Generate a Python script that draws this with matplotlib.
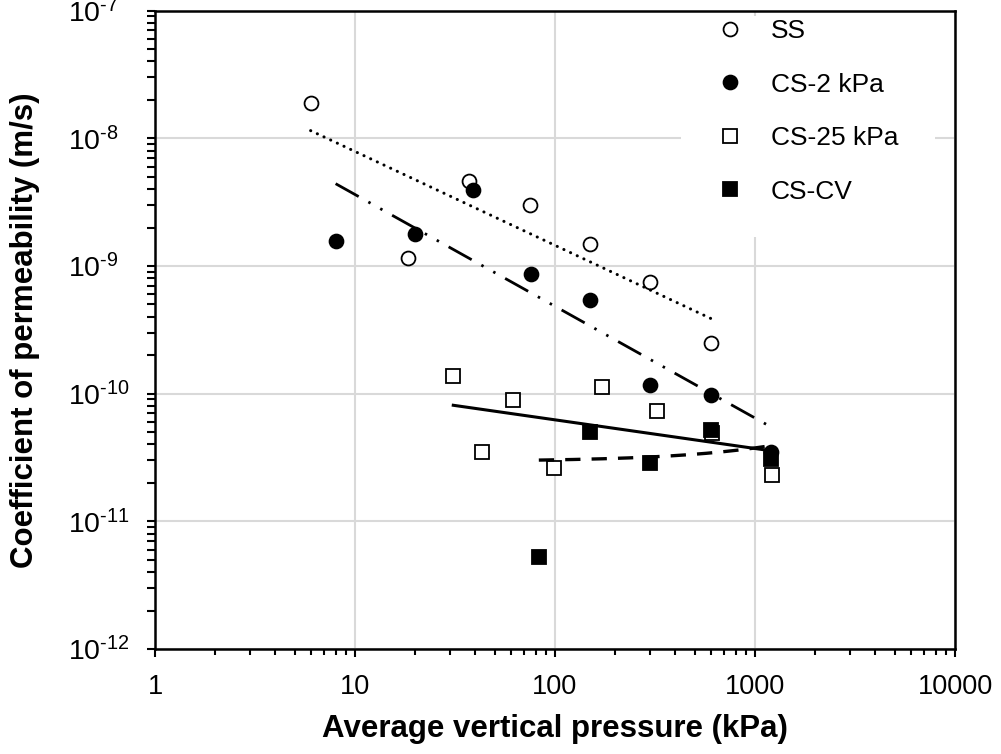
import numpy as np
import matplotlib
matplotlib.use("Agg")
import matplotlib.pyplot as plt
from matplotlib.ticker import LogLocator, FixedLocator, FuncFormatter, NullFormatter
from matplotlib.lines import Line2D
from matplotlib.patches import Rectangle

plt.rcParams['font.family'] = ['Liberation Sans', 'DejaVu Sans']
plt.rcParams['mathtext.fontset'] = 'custom'
plt.rcParams['mathtext.rm'] = 'Liberation Sans'
plt.rcParams['mathtext.default'] = 'regular'
plt.rcParams['lines.scale_dashes'] = False

# ---- data ----
ss_p = [6, 18.4, 37, 75, 150, 300, 600]
ss_k = [1.9e-8, 1.16e-9, 4.6e-9, 3.0e-9, 1.48e-9, 7.5e-10, 2.5e-10]

cs2_p = [8, 20, 39, 76, 150, 300, 600, 1200]
cs2_k = [1.57e-9, 1.77e-9, 3.94e-9, 8.7e-10, 5.4e-10, 1.16e-10, 9.8e-11, 3.5e-11]

cs25_p = [31, 43, 62, 99, 172, 322, 610, 1210]
cs25_k = [1.38e-10, 3.5e-11, 8.9e-11, 2.6e-11, 1.13e-10, 7.3e-11, 4.9e-11, 2.3e-11]

cv_p = [83, 150, 300, 600, 1200]
cv_k = [5.3e-12, 5.0e-11, 2.85e-11, 5.2e-11, 3.05e-11]

labels = ['SS', 'CS-2 kPa', 'CS-25 kPa', 'CS-CV']
x_ticks = [1, 10, 100, 1000, 10000]
y_exps = [-12, -11, -10, -9, -8, -7]

W, H = 1001, 754
fig = plt.figure(figsize=(W / 100, H / 100), dpi=100)
ax_l, ax_r, ax_t, ax_b = 155, 955, 10.6, 649
ax = fig.add_axes([ax_l / W, 1 - ax_b / H, (ax_r - ax_l) / W, (ax_b - ax_t) / H])
ax.set_xscale('log')
ax.set_yscale('log')
ax.set_xlim(1, 10000)
ax.set_ylim(1e-12, 1e-7)

ax.grid(True, which='major', color='#d9d9d9', linewidth=1.5, zorder=0)
ax.set_axisbelow(True)

def ax_frac_x(px):
    return (px - ax_l) / (ax_r - ax_l)
def ax_frac_y(py):
    return 1 - (py - ax_t) / (ax_b - ax_t)

# white legend area (covers the grid)
ax.add_patch(Rectangle((ax_frac_x(681), ax_frac_y(237)),
                       ax_frac_x(935) - ax_frac_x(681), ax_frac_y(16) - ax_frac_y(237),
                       transform=ax.transAxes, facecolor='white', edgecolor='none', zorder=1))

ms = 10
mew = 1.3
ax.plot(ss_p, ss_k, 'o', ms=ms, mfc='white', mec='black', mew=mew, zorder=3)
ax.plot(cs2_p, cs2_k, 'o', ms=ms, mfc='black', mec='black', mew=mew, zorder=3)
ax.plot(cs25_p, cs25_k, 's', ms=ms, mfc='white', mec='black', mew=mew, zorder=3)
ax.plot(cv_p, cv_k, 's', ms=ms, mfc='black', mec='black', mew=mew, zorder=3)

def power_fit(p, k):
    lp, lk = np.log10(p), np.log10(k)
    b, a = np.polyfit(lp, lk, 1)
    xs = np.logspace(lp.min(), lp.max(), 100)
    return xs, 10 ** (a + b * np.log10(xs))

xs, ys = power_fit(ss_p, ss_k)
ax.plot(xs, ys, color='black', lw=2.2, linestyle=(0, (0.1, 5.2)),
        dash_capstyle='round', solid_capstyle='round', zorder=4)
xs, ys = power_fit(cs2_p, cs2_k)
ax.plot(xs, ys, color='black', lw=2.0,
        linestyle=(0, (19, 8, 1.8, 8, 1.8, 8)), dash_capstyle='butt', zorder=4)
xs, ys = power_fit(cs25_p, cs25_k)
ax.plot(xs, ys, color='black', lw=2.2, linestyle='-', zorder=4)
# linear trend (linear in k) for CS-CV
b, a = np.polyfit(cv_p, cv_k, 1)
xs = np.linspace(min(cv_p), max(cv_p), 200)
ax.plot(xs, a + b * xs, color='black', lw=2.4, linestyle=(0, (11, 8)),
        dash_capstyle='butt', zorder=4)

# ticks
ax.xaxis.set_major_locator(FixedLocator(x_ticks))
ax.xaxis.set_major_formatter(FuncFormatter(lambda v, p: f"{int(round(v))}"))
ax.xaxis.set_minor_locator(LogLocator(base=10, subs=np.arange(2, 10), numticks=20))
ax.xaxis.set_minor_formatter(NullFormatter())
ax.yaxis.set_major_locator(FixedLocator([10.0 ** e for e in y_exps]))
ax.yaxis.set_major_formatter(FuncFormatter(
    lambda v, p: r"$10^{\text{-%d}}$" % int(round(-np.log10(v)))))
ax.yaxis.set_minor_locator(LogLocator(base=10, subs=np.arange(2, 10), numticks=20))
ax.yaxis.set_minor_formatter(NullFormatter())

for s in ax.spines.values():
    s.set_linewidth(1.8)
ax.tick_params(axis='y', which='major', direction='out', length=6, width=1.5, pad=57)
ax.tick_params(axis='y', which='minor', direction='out', length=5.5, width=1.5)
ax.tick_params(axis='x', which='major', direction='out', length=6, width=1.5, pad=12)
ax.tick_params(axis='x', which='minor', direction='out', length=4, width=1.5)
for t in ax.get_yticklabels():
    t.set_fontsize(20.5)
    t.set_horizontalalignment('left')
for t in ax.get_xticklabels():
    t.set_fontsize(19.5)

ax.set_xlabel('Average vertical pressure (kPa)', fontsize=22.5, fontweight='bold', labelpad=10)
ax.set_ylabel('Coefficient of permeability (m/s)', fontsize=22.5, fontweight='bold')
ax.yaxis.set_label_coords(ax_frac_x(40), 0.5)

handles = [
    Line2D([], [], ls='none', marker='o', ms=ms, mfc='white', mec='black', mew=mew),
    Line2D([], [], ls='none', marker='o', ms=ms, mfc='black', mec='black', mew=mew),
    Line2D([], [], ls='none', marker='s', ms=ms, mfc='white', mec='black', mew=mew),
    Line2D([], [], ls='none', marker='s', ms=ms, mfc='black', mec='black', mew=mew),
]
leg = ax.legend(handles, labels, loc='upper left',
                bbox_to_anchor=(ax_frac_x(716.8), ax_frac_y(19)),
                frameon=False, fontsize=19, handlelength=1.0, handletextpad=1.05,
                labelspacing=1.12, borderpad=0, borderaxespad=0)
leg.set_zorder(5)

fig.savefig('out.png', dpi=100)
